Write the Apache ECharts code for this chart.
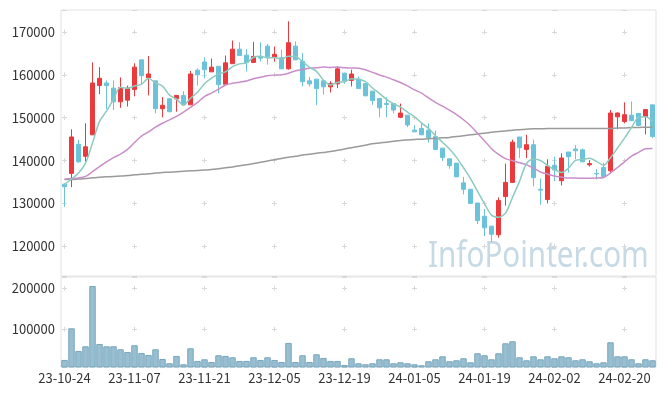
<!DOCTYPE html>
<html>
<head>
<meta charset="utf-8">
<script src="https://cdn.jsdelivr.net/npm/echarts@6.0.0/dist/echarts.min.js"></script>
<style>html,body{margin:0;padding:0;background:#fff;}#c{width:665px;height:396px;}</style>
</head>
<body>
<div id="c"></div>
<script>
var dates = ['23-10-24','23-10-25','23-10-26','23-10-27','23-10-30','23-10-31','23-11-01','23-11-02','23-11-03','23-11-06',
'23-11-07','23-11-08','23-11-09','23-11-10','23-11-13','23-11-14','23-11-15','23-11-16','23-11-17','23-11-20',
'23-11-21','23-11-22','23-11-23','23-11-24','23-11-27','23-11-28','23-11-29','23-11-30','23-12-01','23-12-04',
'23-12-05','23-12-06','23-12-07','23-12-08','23-12-11','23-12-12','23-12-13','23-12-14','23-12-15','23-12-18',
'23-12-19','23-12-20','23-12-21','23-12-22','23-12-26','23-12-27','23-12-28','24-01-02','24-01-03','24-01-04',
'24-01-05','24-01-08','24-01-09','24-01-10','24-01-11','24-01-12','24-01-15','24-01-16','24-01-17','24-01-18',
'24-01-19','24-01-22','24-01-23','24-01-24','24-01-25','24-01-26','24-01-29','24-01-30','24-01-31','24-02-01',
'24-02-02','24-02-05','24-02-06','24-02-07','24-02-08','24-02-13','24-02-14','24-02-15','24-02-16','24-02-19',
'24-02-20','24-02-21','24-02-22','24-02-23','24-02-26'];

var opens = [134500,137000,143800,141000,146000,157500,158100,156900,153700,154100,
156600,163500,159300,158600,152100,154400,154400,155200,153000,161100,
163000,160700,162000,157800,162600,166000,164600,162900,164300,166700,
164100,164000,161400,166700,163200,158600,159000,158600,157200,157900,
160400,158700,159000,158000,156200,154500,153300,153300,150100,150600,
147100,147500,147100,145600,142900,140400,139400,134800,133300,130100,
127000,124700,122700,131600,134900,145500,142600,143700,133300,130900,
138900,135300,142000,142700,142500,139000,137000,138400,137600,150200,
149100,150600,151000,150300,153000];

var closes = [133900,145500,139700,143200,158100,159200,157500,153700,157000,156900,
161800,159800,160200,152100,152900,151400,155200,153000,160200,160000,
161200,161800,157700,162800,166000,164500,162900,164300,163900,164200,
164800,161400,167500,163500,158400,157900,156800,157200,158000,161400,
158600,160200,156800,155100,154000,152300,153100,151800,151100,148300,
146700,146000,145400,142600,140700,138800,136200,133300,130000,126000,
124300,122800,130700,134900,144300,143000,143700,136000,133100,138700,
137800,140600,140900,142300,139700,139300,136900,136300,151100,151100,
150700,149300,148200,151900,145600];

var lows = [129200,133800,139500,139800,146000,155500,152000,151800,152300,152600,
155000,157600,155200,151000,150100,151300,151400,153000,153000,157500,
159200,160700,155700,157800,162600,164500,160800,162900,163100,162400,
163100,161400,161200,163500,157300,157300,152900,155400,155900,156900,
157900,157300,156800,155100,153000,150100,150100,151000,149900,147800,
146700,146000,144200,142600,139900,138100,136200,132100,130000,125200,
122400,121100,122000,129500,134900,140600,140600,134000,129700,130000,
135200,134200,137200,140300,139700,138600,135600,136300,137000,147300,
148700,149300,148000,146100,145300];

var highs = [134700,147300,144800,148700,162900,161800,158700,158700,159400,157500,
162700,163500,164400,158600,154800,154600,155300,156200,160900,161500,
164100,163800,162000,164500,168000,167600,166000,167700,167600,167200,
166600,165900,172500,167800,165100,159500,159000,158600,158500,162000,
160400,161200,159600,158000,156200,154500,154800,153300,153300,150600,
148300,148700,148700,147000,142900,140400,139400,136200,133300,130100,
128700,124700,131400,139300,144900,145500,146000,144900,135800,140300,
140900,141700,142000,143600,142800,140100,138000,139500,151800,151200,
153600,153800,151000,151900,153000];

var ma5 = [134400,135700,137100,139400,144080,149140,151540,154340,157100,156860,
157380,157840,159140,158160,157360,155280,154360,152920,154540,155960,
157920,159240,160180,160700,161900,162560,162780,164100,164320,163960,
164020,163720,164360,164280,163120,161740,160820,158760,157660,158260,
158400,159080,159000,158420,156940,155680,154260,153260,152460,151320,
150200,148780,147500,145800,144280,142700,140740,138320,135800,132860,
129960,127280,126760,127740,131400,135140,139320,140380,140020,138900,
137860,137240,138220,140060,140260,140560,139820,138900,140660,142940,
145220,147700,150080,150240,149140];

var ma20 = [135700,135800,135950,136300,137400,138600,139700,140700,141500,142600,
144200,145700,146700,147800,148700,149500,150300,151300,152400,153570,
154930,155750,156650,157630,158020,158290,158560,159090,159430,159800,
159950,160030,160390,160960,161240,161560,161640,161850,161740,161810,
161680,161600,161560,161170,160570,159960,159470,158850,158210,157410,
156510,155740,154630,153590,152700,151750,150720,149520,148120,146350,
144640,142770,141460,140450,139970,139500,139030,138240,137340,136860,
136420,136150,135920,135910,135860,135880,135920,136070,137120,138380,
139700,141020,141900,142750,142810];

var maLong = [135600,135600,135700,135800,136000,136100,136200,136300,136400,136500,
136700,136800,136900,137100,137200,137300,137400,137500,137600,137700,
137800,137900,138100,138300,138500,138800,139000,139300,139600,139900,
140200,140500,140800,141000,141300,141500,141700,141900,142100,142400,
142700,143000,143300,143600,143900,144100,144300,144500,144700,144800,
144900,145000,145100,145200,145300,145400,145600,145800,146000,146200,
146400,146600,146800,146900,147100,147200,147300,147400,147400,147500,
147500,147500,147500,147500,147500,147500,147500,147500,147500,147600,
147600,147700,147700,147800,147800];

var volumes = [25200,102400,47200,58500,205700,64200,58500,58500,51200,44700,
61000,42300,37400,51200,27600,17100,35000,14600,53700,22800,
26800,20300,36600,35000,31700,22800,22800,31700,25200,31700,
25200,20300,66700,20300,36600,20300,39000,30100,22800,22800,
13000,29300,17100,14600,17100,26800,26800,17100,19500,17100,
14600,12200,22000,26800,34100,22000,24400,29300,19500,41500,
36600,26800,41500,65900,70700,31700,24400,34100,26800,34100,
29300,34100,31700,24400,26800,22000,17100,19500,68300,34100,
34100,26800,17100,26800,24400];

var candleData = opens.map(function (o, i) { return [o, closes[i], lows[i], highs[i]]; });

var FONT = '"Noto Sans CJK KR", "Noto Sans", sans-serif';
function plain(v) { return String(v); }
var chart = echarts.init(document.getElementById('c'), null, {renderer: 'canvas'});
chart.setOption({
  animation: false,
  backgroundColor: '#fff',
  grid: [
    {left: 61, right: 9, top: 10, height: 266, show: true, borderColor: '#e2e2e2', borderWidth: 1, backgroundColor: 'transparent'},
    {left: 61, right: 9, top: 277, height: 90, show: true, borderColor: '#e2e2e2', borderWidth: 1, backgroundColor: 'transparent'}
  ],
  graphic: [{
    type: 'text', left: 428, top: 238, z: 0, silent: true, scaleX: 0.8,
    style: {text: 'InfoPointer.com', font: '37px "Noto Sans"', fill: '#c6d9e5'}
  }],
  xAxis: [
    {type: 'category', gridIndex: 0, data: dates, boundaryGap: true,
     axisLine: {show: false}, axisTick: {show: false}, axisLabel: {show: false},
     splitLine: {show: true, interval: 9, alignWithLabel: true,
       lineStyle: {color: '#d9d9d9', width: 1, type: [5, 37.862], dashOffset: 23.37}}},
    {type: 'category', gridIndex: 1, data: dates, boundaryGap: true,
     axisLine: {show: false}, axisTick: {show: false},
     axisLabel: {show: true, interval: 9, color: '#333', fontSize: 13, fontFamily: FONT, margin: 5},
     splitLine: {show: true, interval: 9, alignWithLabel: true,
       lineStyle: {color: '#d9d9d9', width: 1, type: [5, 35.98], dashOffset: 32.18}}}
  ],
  yAxis: [
    {type: 'value', gridIndex: 0, min: 113070, max: 175130, splitNumber: 5,
     axisLine: {show: false}, axisTick: {show: false},
     axisLabel: {color: '#333', fontSize: 13, fontFamily: FONT, margin: 6, showMinLabel: false, showMaxLabel: false, formatter: plain},
     splitLine: {show: true, lineStyle: {color: '#d9d9d9', width: 1, type: [5, 65], dashOffset: 69}}},
    {type: 'value', gridIndex: 1, min: 8000, max: 227600, splitNumber: 2,
     axisLine: {show: false}, axisTick: {show: false},
     axisLabel: {color: '#333', fontSize: 13, fontFamily: FONT, margin: 6, showMinLabel: false, showMaxLabel: false, formatter: plain},
     splitLine: {show: true, lineStyle: {color: '#d9d9d9', width: 1, type: [5, 65], dashOffset: 69}}}
  ],
  series: [
    {name: 'MA long', type: 'line', xAxisIndex: 0, yAxisIndex: 0, data: maLong, smooth: 0.3, showSymbol: false,
     lineStyle: {color: '#9a9a9a', width: 1.5}},
    {name: 'MA20', type: 'line', xAxisIndex: 0, yAxisIndex: 0, data: ma20, smooth: 0.3, showSymbol: false,
     lineStyle: {color: '#c98ec9', width: 1.5}},
    {name: 'MA5', type: 'line', xAxisIndex: 0, yAxisIndex: 0, data: ma5, smooth: 0.3, showSymbol: false,
     lineStyle: {color: '#8dcac0', width: 1.5}},
    {name: 'Price', type: 'candlestick', xAxisIndex: 0, yAxisIndex: 0, data: candleData, barWidth: 5,
     itemStyle: {color: '#ea3a3d', color0: '#6cc3d9', borderColor: '#ea3a3d', borderColor0: '#6cc3d9', borderWidth: 1}},
    {name: 'Volume', type: 'bar', xAxisIndex: 1, yAxisIndex: 1, data: volumes, barCategoryGap: '8%',
     itemStyle: {color: '#98bfd1', borderColor: '#77a5bb', borderWidth: 1}}
  ]
});
</script>
</body>
</html>
